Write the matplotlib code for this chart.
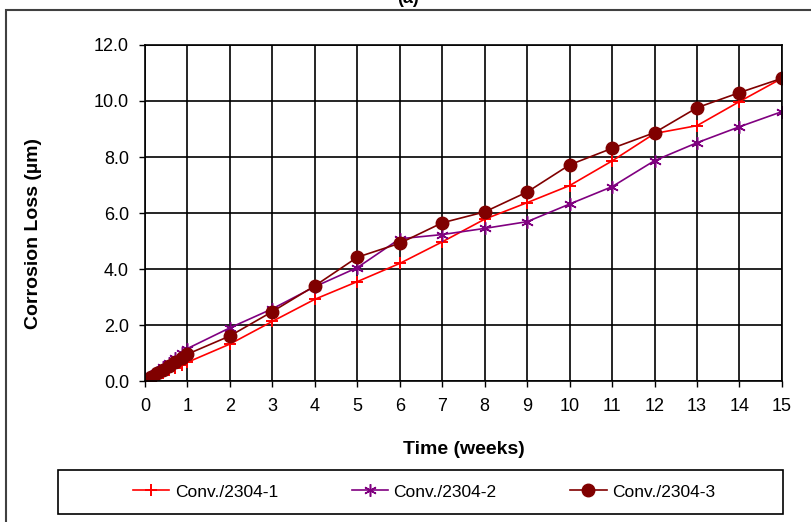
import numpy as np
import matplotlib
matplotlib.use('Agg')
import matplotlib.pyplot as plt
from matplotlib.patches import Rectangle

plt.rcParams['font.family'] = ['Liberation Sans', 'DejaVu Sans']

# Time points (weeks): daily during first week, then weekly
weeks = [0, 0.14, 0.29, 0.43, 0.57, 0.71, 0.86, 1, 2, 3, 4, 5, 6, 7, 8, 9, 10, 11, 12, 13, 14, 15]

# Corrosion loss (um)
conv_1 = [0, 0.10, 0.20, 0.29, 0.38, 0.47, 0.57, 0.67, 1.32, 2.13, 2.92, 3.55, 4.2, 4.97,
          5.78, 6.37, 6.98, 7.86, 8.84, 9.12, 9.98, 10.81]
conv_2 = [0, 0.17, 0.33, 0.50, 0.66, 0.82, 0.99, 1.16, 1.9, 2.58, 3.37, 4.05, 5.08, 5.23,
          5.45, 5.69, 6.32, 6.94, 7.87, 8.51, 9.08, 9.62]
conv_3 = [0, 0.14, 0.28, 0.41, 0.55, 0.69, 0.82, 0.96, 1.61, 2.48, 3.4, 4.42, 4.92, 5.65,
          6.04, 6.75, 7.72, 8.31, 8.87, 9.76, 10.3, 10.81]

labels = ['Conv./2304-1', 'Conv./2304-2', 'Conv./2304-3']

fig = plt.figure(figsize=(8.12, 5.22), dpi=100)
ax = fig.add_axes([0.1786, 0.2701, 0.7844, 0.6437])

ax.plot(weeks, conv_1, color='#FF0000', lw=1.2, marker='+', ms=9, mew=1.4, label=labels[0])
ax.plot(weeks, conv_2, color='#800080', lw=1.2, marker=(6, 2, 0), ms=9, mew=1.1, label=labels[1])
ax.plot(weeks, conv_3, color='#800000', lw=1.2, marker='o', ms=9, label=labels[2])

ax.set_xlim(0, 15)
ax.set_ylim(0, 12)
ax.set_xticks(range(0, 16))
ax.set_yticks(np.arange(0, 12.1, 2))
ax.set_yticklabels([f'{v:.1f}' for v in np.arange(0, 12.1, 2)])
ax.grid(True, color='black', lw=1.2)
ax.set_axisbelow(True)
for s in ax.spines.values():
    s.set_color('black')
    s.set_linewidth(1.2)
ax.tick_params(labelsize=13, direction='out', length=4.5, width=1)
ax.tick_params(axis='y', pad=7)
ax.tick_params(axis='x', pad=8)

ax.set_xlabel('Time (weeks)', fontsize=14, fontweight='bold')
ax.xaxis.set_label_coords(0.5, -0.178)
ax.set_ylabel('Corrosion Loss (\u00b5m)', fontsize=14, fontweight='bold')
ax.yaxis.set_label_coords(-0.162, 0.44)

# outer chart frame
fig.patches.append(Rectangle((6 / 812, -0.05), 1.1, 1 - 10 / 522 + 0.05,
                             transform=fig.transFigure, fill=False,
                             edgecolor='#404040', lw=1.5))
fig.text(0.503, 1.003, '(a)', fontsize=13, fontweight='bold', ha='center', va='center')

# legend box
fig.patches.append(Rectangle((58 / 812, 1 - 514 / 522), 725 / 812, 44 / 522,
                             transform=fig.transFigure, fill=False,
                             edgecolor='black', lw=1.2))
leg = fig.legend(loc='center', bbox_to_anchor=(424 / 812, 1 - 492 / 522), ncol=3,
                 fontsize=12.5, frameon=False, handlelength=2.1, handletextpad=0.3,
                 columnspacing=4.25, borderaxespad=0)

fig.savefig('out.png', dpi=100)
